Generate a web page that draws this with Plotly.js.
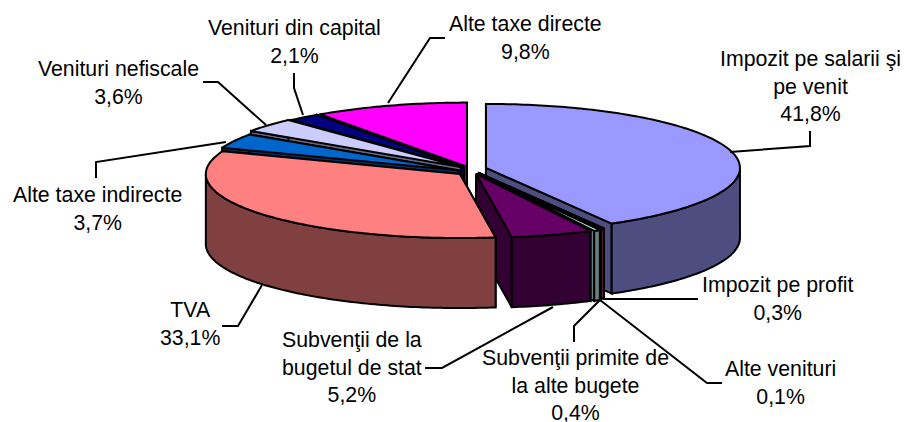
<!DOCTYPE html>
<html><head><meta charset="utf-8">
<script src="https://cdn.plot.ly/plotly-3.0.1.min.js"></script>
<style>html,body{margin:0;padding:0;background:#fff}#c{width:905px;height:422px}</style></head>
<body><div id="c"></div>
<script>
// Data, clockwise from 12 o'clock
const categories = ["Impozit pe salarii şi<br>pe venit","Impozit pe profit","Alte venituri","Subvenţii primite de<br>la alte bugete","Subvenţii de la<br>bugetul de stat","TVA","Alte taxe indirecte","Venituri nefiscale","Venituri din capital","Alte taxe directe"];
const values = [41.8,0.3,0.1,0.4,5.2,33.1,3.7,3.6,2.1,9.8];
const topColors = ["#9999FF","#993366","#FFFFCC","#CCFFFF","#660066","#FF8080","#0066CC","#CCCCFF","#000080","#FF00FF"];
const wallColors = ["#4D4D80","#4D1A33","#808066","#668080","#330033","#804040","#003366","#666680","#000040","#800080"];
const explode = [16.5,17,19,21,20,13,12,12,10,10];
const nudgeY = [0,0,0,0,0,3,3,0,0,0];
const drawOrder = [9,8,7,6,0,1,2,3,4,5];
const labelX = [810.5,778,780.5,575,352,190,97,118,294,525];
const labelY = [86,299,383,385,367.5,324,209,82.5,41.5,38];
const leaders = [
  [[730,152],[810,146],[810,131]],
  [[603,299],[698,299]],
  [[600,300],[707,383],[722,383]],
  [[600,300],[574,326],[574,342]],
  [[553,307],[442,368],[425,368]],
  [[262,285],[238,326],[222,326]],
  [[226,142],[96,162],[96,178]],
  [[266,125],[218,82],[203,82]],
  [[303,115],[294,88],[294,73]],
  [[388,103],[430,38],[445,38]]
];
// Pie geometry
const cx=470, cy=169, a=254, b=64, depth=70, ratio=b/a;
const total=values.reduce((s,v)=>s+v,0);
const rad=p=>p/total*2*Math.PI;
const traces=[];
function poly(xs,ys,fill){traces.push({type:'scatter',mode:'lines',x:xs,y:ys,fill:'toself',fillcolor:fill,line:{color:'#000',width:2,simplify:false},hoverinfo:'skip',showlegend:false});}
let cum=0; const slices=values.map((v,i)=>{const s={i,t0:rad(cum),t1:rad(cum+v)};cum+=v;return s;});
drawOrder.forEach(i=>{
  const s=slices[i], mid=(s.t0+s.t1)/2;
  const ax=cx+explode[i]*Math.sin(mid), ay=cy-explode[i]*ratio*Math.cos(mid)+nudgeY[i];
  const pt=t=>[ax+a*Math.sin(t), ay-b*Math.cos(t)];
  const n=Math.max(2,Math.ceil((s.t1-s.t0)*60));
  const ts=[];for(let k=0;k<=n;k++)ts.push(s.t0+(s.t1-s.t0)*k/n);
  [s.t0,s.t1].forEach(t=>{const p=pt(t);poly([ax,p[0],p[0],ax,ax],[ay,p[1],p[1]+depth,ay+depth,ay],wallColors[i]);});
  const fr=ts.filter(t=>Math.cos(t)<=0);
  const lo=Math.max(s.t0,Math.PI/2), hi=Math.min(s.t1,1.5*Math.PI);
  if(hi>lo){const f=[lo,...fr.filter(t=>t>lo&&t<hi),hi];
    const up=f.map(pt);
    poly([...up.map(p=>p[0]),...up.slice().reverse().map(p=>p[0]),up[0][0]],
         [...up.map(p=>p[1]),...up.slice().reverse().map(p=>p[1]+depth),up[0][1]],wallColors[i]);}
  const tp=ts.map(pt);
  poly([ax,...tp.map(p=>p[0]),ax],[ay,...tp.map(p=>p[1]),ay],topColors[i]);
});
const pct=v=>v.toFixed(1).replace('.',',')+'%';
const annotations=categories.map((c,i)=>({x:labelX[i],y:labelY[i],xref:'x',yref:'y',text:c+'<br>'+pct(values[i]),showarrow:false,xanchor:'center',yanchor:'middle',align:'center',font:{family:'Liberation Sans',size:21.3,color:'#000'}}));
const shapes=leaders.map(l=>({type:'path',xref:'x',yref:'y',path:'M'+l.map(p=>p.join(',')).join('L'),line:{color:'#000',width:2},fillcolor:'rgba(0,0,0,0)',layer:'above'}));
Plotly.newPlot('c',traces,{width:905,height:422,margin:{l:0,r:0,t:0,b:0},paper_bgcolor:'#fff',plot_bgcolor:'#fff',showlegend:false,
  xaxis:{range:[0,905],visible:false,fixedrange:true},yaxis:{range:[422,0],visible:false,fixedrange:true},annotations,shapes},{staticPlot:true,displayModeBar:false});
</script></body></html>
